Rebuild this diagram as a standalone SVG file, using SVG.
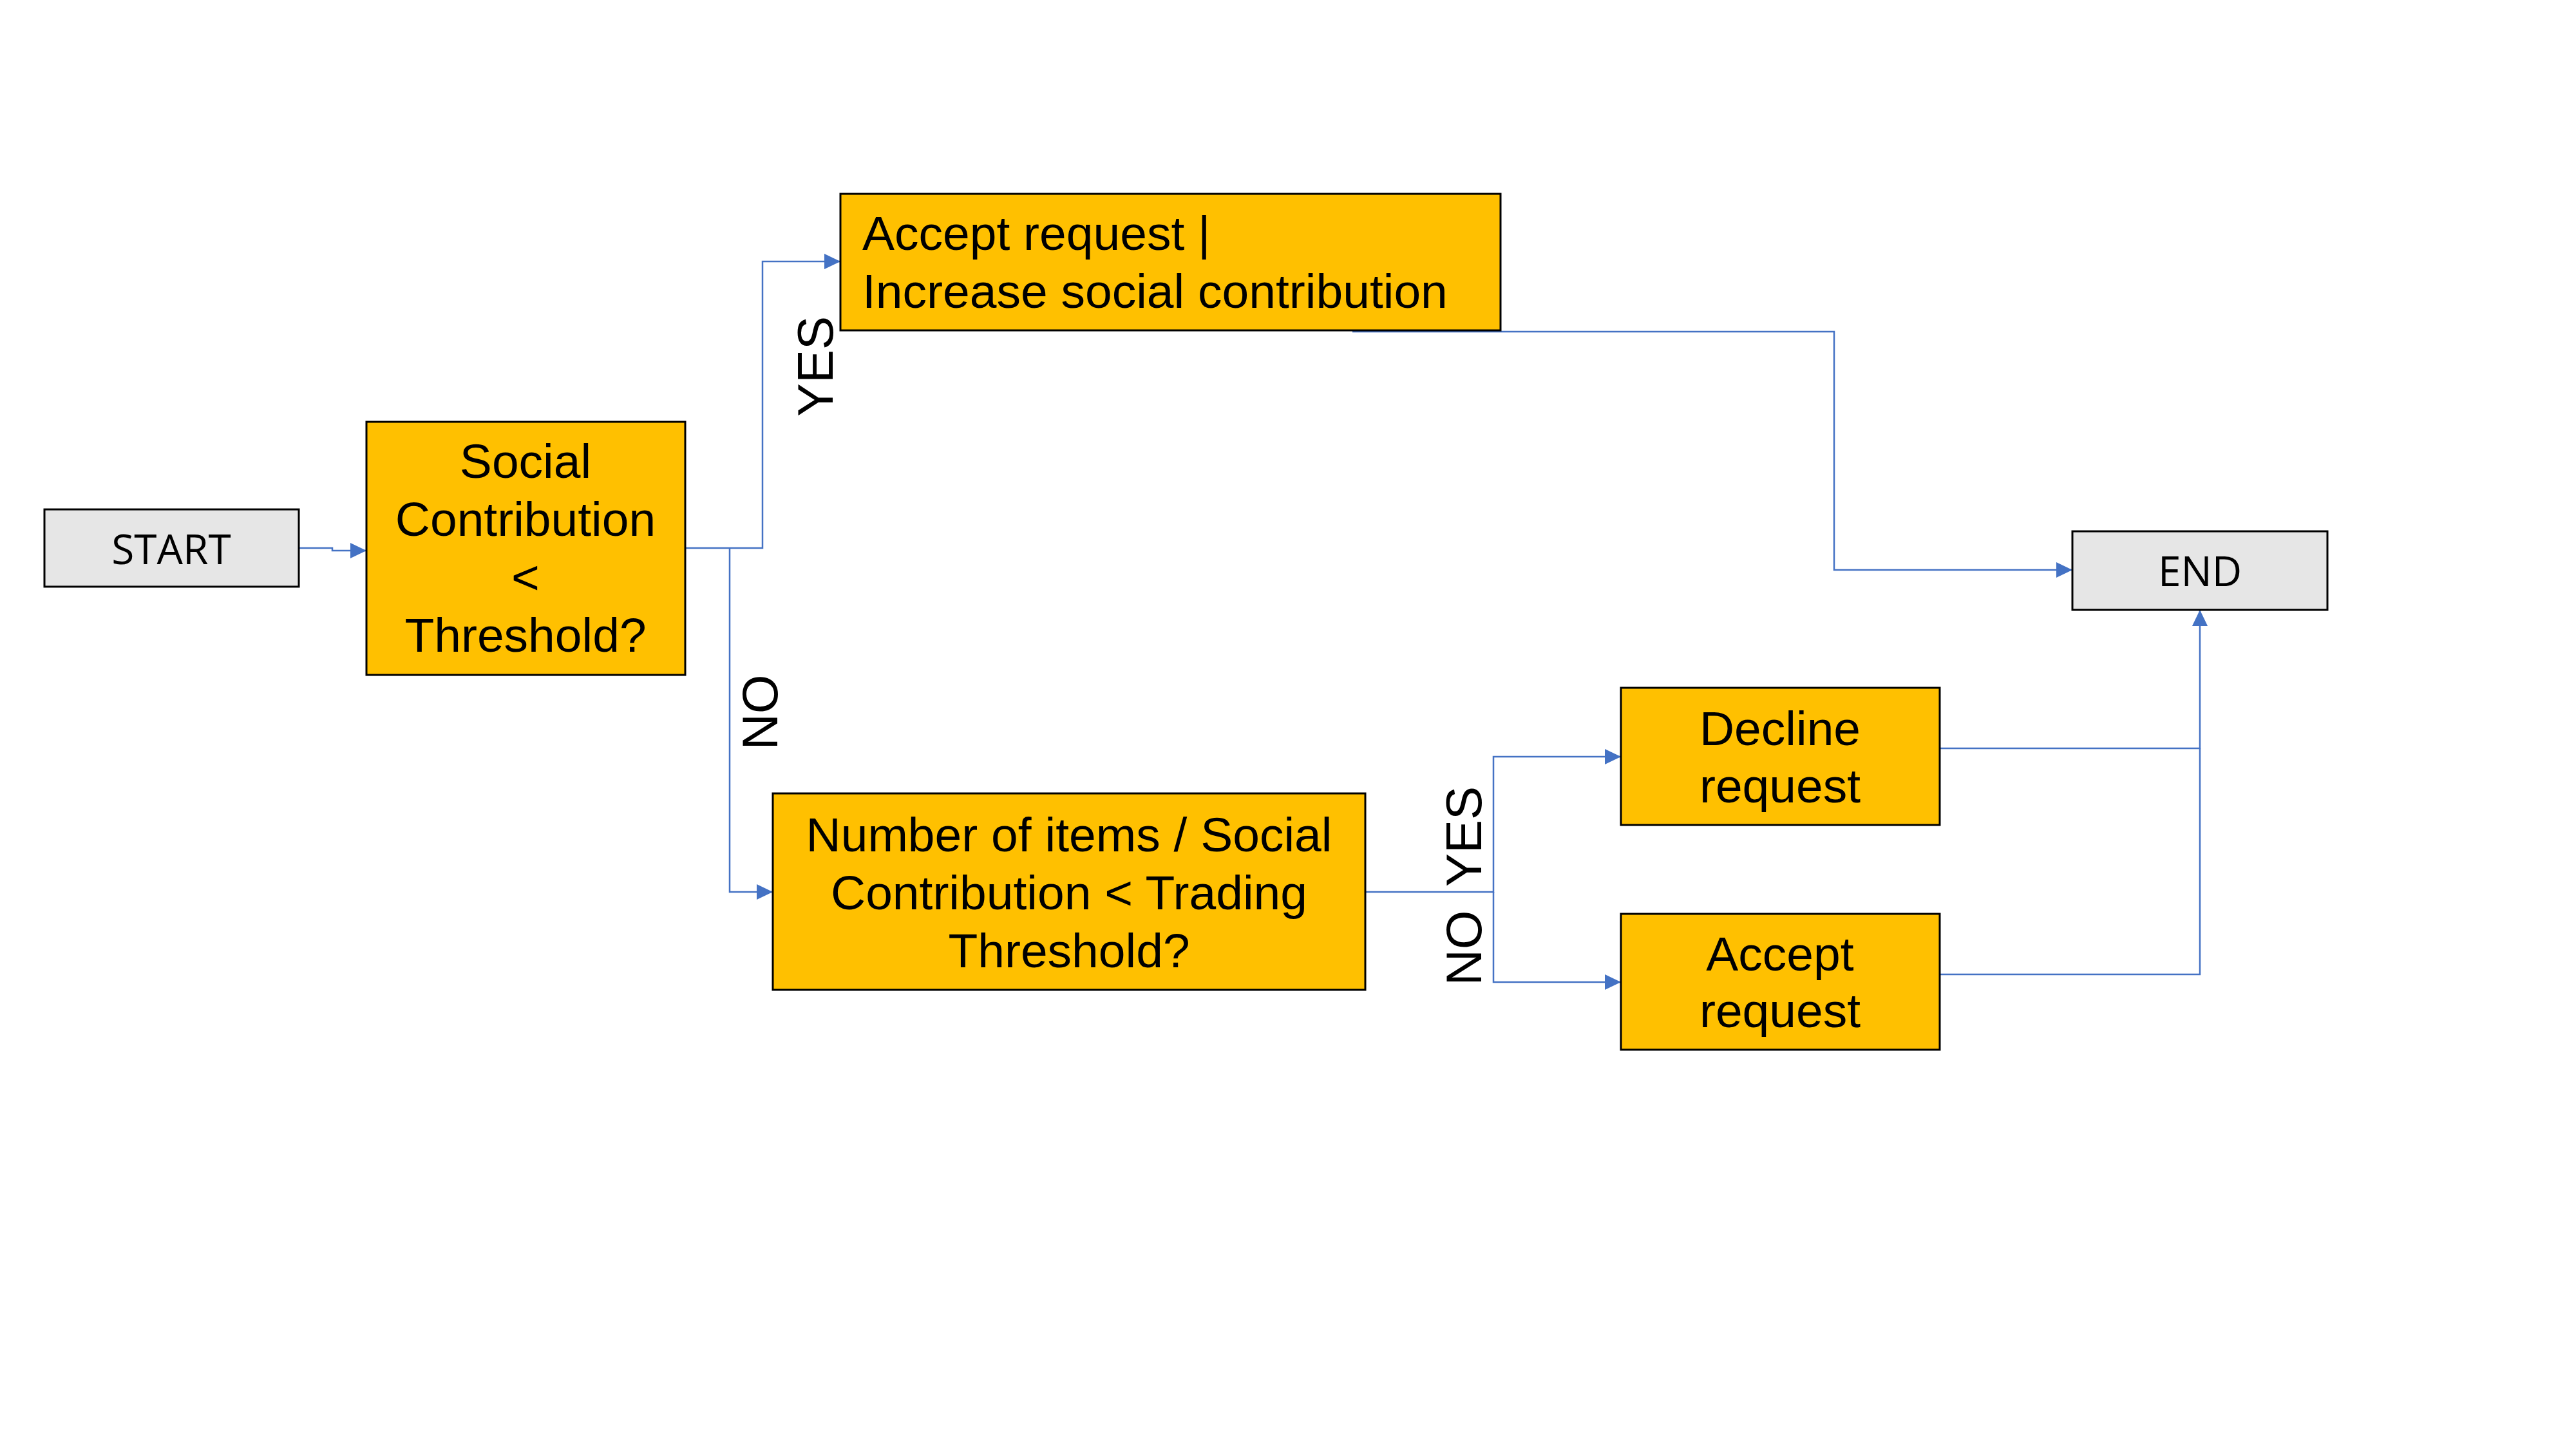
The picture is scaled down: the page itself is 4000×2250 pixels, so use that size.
<svg xmlns="http://www.w3.org/2000/svg" width="4000" height="2250" viewBox="0 0 4000 2250">
<style>
.proc{fill:#FFC000;stroke:#000;stroke-width:3}
.term{fill:#E6E6E6;stroke:#000;stroke-width:3}
.t{font-family:"Liberation Sans",Arial,sans-serif;font-size:75px;fill:#000}
.tt{font-family:"Open Sans","Noto Sans",sans-serif;font-size:64px;fill:#000;text-anchor:middle}
.c{text-anchor:middle}
.lbl{font-family:"Liberation Sans",Arial,sans-serif;font-size:78px;fill:#000;text-anchor:middle}
.conn{fill:none;stroke:#4472C4;stroke-width:2.5}
</style>
<defs>
<marker id="arr" viewBox="0 0 25 24" refX="25" refY="12" markerWidth="25" markerHeight="24" markerUnits="userSpaceOnUse" orient="auto">
<path d="M0,0 L25,12 L0,24 z" fill="#4472C4"/>
</marker>
</defs>
<rect width="4000" height="2250" fill="#fff"/>
<g id="connectors">
<path class="conn" d="M464,851 H516 V855 H569" marker-end="url(#arr)"/>
<path class="conn" d="M1064,851 H1184 V406 H1305" marker-end="url(#arr)"/>
<path class="conn" d="M1133,851 V1385 H1200" marker-end="url(#arr)"/>
<path class="conn" d="M2120,1385 H2319 V1175 H2517" marker-end="url(#arr)"/>
<path class="conn" d="M2319,1385 V1525 H2517" marker-end="url(#arr)"/>
<path class="conn" d="M2100,515 H2848 V885 H3218" marker-end="url(#arr)"/>
<path class="conn" d="M3012,1162 H3416 V947" marker-end="url(#arr)"/>
<path class="conn" d="M3012,1513 H3416 V1162"/>
<text class="lbl" transform="translate(1293,569) rotate(-90)">YES</text>
<text class="lbl" transform="translate(1207,1106) rotate(-90)">NO</text>
<text class="lbl" transform="translate(2300,1299) rotate(-90)">YES</text>
<text class="lbl" transform="translate(2300,1472) rotate(-90)">NO</text>
</g>
<g id="start">
<rect class="term" x="69" y="791" width="395" height="120"/>
<text class="tt" x="266" y="876">START</text>
</g>
<g id="decision1">
<rect class="proc" x="569" y="655" width="495" height="393"/>
<text class="t c" x="816" y="742">Social</text>
<text class="t c" x="816" y="832">Contribution</text>
<text class="t c" x="816" y="922">&lt;</text>
<text class="t c" x="816" y="1012">Threshold?</text>
</g>
<g id="acceptIncrease">
<rect class="proc" x="1305" y="301" width="1025" height="212"/>
<text class="t" x="1339" y="388">Accept request |</text>
<text class="t" x="1339" y="478">Increase social contribution</text>
</g>
<g id="decision2">
<rect class="proc" x="1200" y="1232" width="920" height="305"/>
<text class="t c" x="1660" y="1322">Number of items / Social</text>
<text class="t c" x="1660" y="1412">Contribution &lt; Trading</text>
<text class="t c" x="1660" y="1502">Threshold?</text>
</g>
<g id="decline">
<rect class="proc" x="2517" y="1068" width="495" height="213"/>
<text class="t c" x="2764" y="1157">Decline</text>
<text class="t c" x="2764" y="1246">request</text>
</g>
<g id="accept">
<rect class="proc" x="2517" y="1419" width="495" height="211"/>
<text class="t c" x="2764" y="1507">Accept</text>
<text class="t c" x="2764" y="1595">request</text>
</g>
<g id="end">
<rect class="term" x="3218" y="825" width="396" height="122"/>
<text class="tt" x="3416" y="910">END</text>
</g>
</svg>
